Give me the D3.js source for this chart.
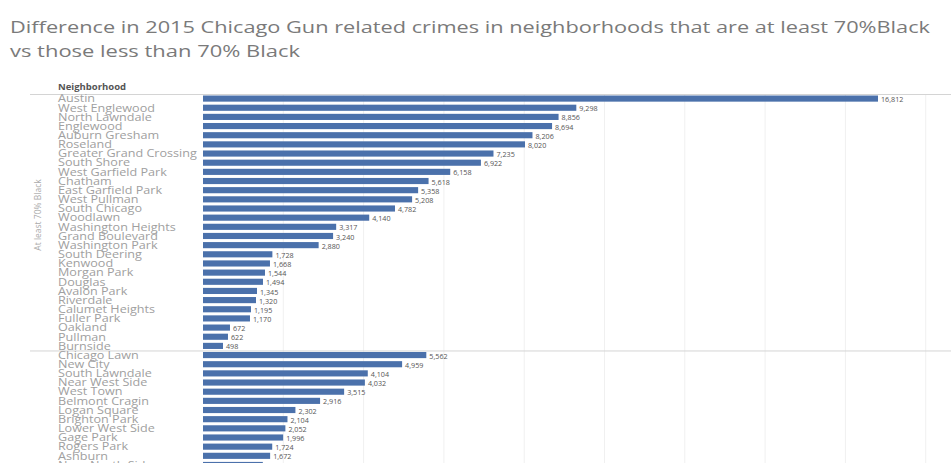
<!DOCTYPE html>
<html><head><meta charset="utf-8">
<script src="https://cdn.jsdelivr.net/npm/d3@7"></script>
<style>
html,body{margin:0;padding:0;background:#fff;overflow:hidden;}
svg{display:block;}
</style></head>
<body>
<script>
const titleLines = ["Difference in 2015 Chicago Gun related crimes in neighborhoods that are at least 70%Black",
                    "vs those less than 70% Black"];
const groupLabels = ["At least 70% Black", "Less than 70% Black"];
const blackNeighborhoods = ["Austin","West Englewood","North Lawndale","Englewood","Auburn Gresham","Roseland",
  "Greater Grand Crossing","South Shore","West Garfield Park","Chatham","East Garfield Park","West Pullman",
  "South Chicago","Woodlawn","Washington Heights","Grand Boulevard","Washington Park","South Deering",
  "Kenwood","Morgan Park","Douglas","Avalon Park","Riverdale","Calumet Heights","Fuller Park","Oakland",
  "Pullman","Burnside"];
const blackValues = [16812,9298,8856,8694,8206,8020,7235,6922,6158,5618,5358,5208,4782,4140,3317,3240,2880,
  1728,1668,1544,1494,1345,1320,1195,1170,672,622,498];
const otherNeighborhoods = ["Chicago Lawn","New City","South Lawndale","Near West Side","West Town",
  "Belmont Cragin","Logan Square","Brighton Park","Lower West Side","Gage Park","Rogers Park","Ashburn",
  "Near North Side"];
const otherValues = [5562,4959,4104,4032,3515,2916,2302,2104,2052,1996,1724,1672,1490];
const xTicks = [0,2000,4000,6000,8000,10000,12000,14000,16000,18000];

const W = 951, H = 463;
const svg = d3.select("body").append("svg").attr("width", W).attr("height", H);

const rows = blackNeighborhoods.map((n,i)=>({name:n, value:blackValues[i], group:0}))
  .concat(otherNeighborhoods.map((n,i)=>({name:n, value:otherValues[i], group:1})));

const rowH = 9.16, topY = 94;
const y = d3.scaleBand().domain(rows.map(d=>d.name))
  .range([topY, topY + rows.length*rowH]).paddingInner(0.33).paddingOuter(0.165);
const x = d3.scaleLinear().domain([0,18000]).range([203, 203 + 18000*0.04015]);

// title
const tl = svg.append("g").attr("fill","#7a7a7a").attr("font-family","'Open Sans', sans-serif").attr("font-size",17);
tl.append("text").attr("x",10).attr("y",33).attr("textLength",920).attr("lengthAdjust","spacingAndGlyphs").text(titleLines[0]);
tl.append("text").attr("x",10).attr("y",57).attr("textLength",290).attr("lengthAdjust","spacingAndGlyphs").text(titleLines[1]);

// gridlines
svg.append("g").selectAll("line").data(xTicks.slice(1)).join("line")
  .attr("x1",d=>x(d)).attr("x2",d=>x(d)).attr("y1",topY).attr("y2",H)
  .attr("stroke","#f0f0f0").attr("stroke-width",1);

// header
svg.append("text").attr("x",58).attr("y",90).attr("font-family","'Open Sans', sans-serif")
  .attr("font-size",9.5).attr("font-weight","bold").attr("fill","#555").text("Neighborhood");
const sepY = topY + blackNeighborhoods.length*rowH;
svg.append("g").selectAll("line").data([topY, sepY]).join("line")
  .attr("x1",30).attr("x2",W).attr("y1",d=>d+0.5).attr("y2",d=>d+0.5)
  .attr("stroke","#d4d4d4").attr("stroke-width",1);

// group label
svg.append("text").attr("transform",`translate(41,215) rotate(-90)`)
  .attr("text-anchor","middle").attr("font-family","'Open Sans', sans-serif").attr("font-size",8.5)
  .attr("fill","#aaa").text(groupLabels[0]);

// row labels
const lbl = svg.append("g").selectAll("text").data(rows).join("text")
  .attr("x",58).attr("y",d=>y(d.name)+y.bandwidth()/2).attr("dy","0.36em")
  .attr("font-family","'Open Sans', sans-serif").attr("font-size",10.5).attr("fill","#a0a0a0")
  .text(d=>d.name);
lbl.each(function(){ const L=this.getComputedTextLength(); d3.select(this).attr("textLength", L*1.2).attr("lengthAdjust","spacingAndGlyphs"); });

// bars
svg.append("g").selectAll("rect").data(rows).join("rect")
  .attr("x",x(0)).attr("y",d=>y(d.name)).attr("width",d=>x(d.value)-x(0)).attr("height",y.bandwidth())
  .attr("fill","#4b71ab");

// value labels
const fmt = d3.format(",");
svg.append("g").selectAll("text").data(rows).join("text")
  .attr("x",d=>x(d.value)+3).attr("y",d=>y(d.name)+y.bandwidth()/2+1).attr("dy","0.36em")
  .attr("font-family","'Open Sans', sans-serif").attr("font-size",7.2).attr("fill","#555")
  .text(d=>fmt(d.value));
</script>
</body></html>
